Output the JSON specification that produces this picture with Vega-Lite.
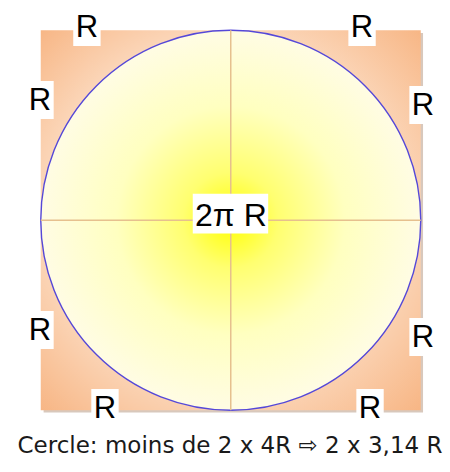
{
  "$schema": "https://vega.github.io/schema/vega-lite/v6.json",
  "width": 450,
  "height": 472,
  "autosize": {"type": "fit", "contains": "padding"},
  "padding": 0,
  "background": "white",
  "config": {"view": {"stroke": null}},
  "datasets": {
    "square": [{"x": -1, "x2": 1, "y": -1, "y2": 1}],
    "shadow": [{"x": -0.985, "x2": 1.012, "y": -1.012, "y2": 0.985}],
    "center": [{"x": 0, "y": 0}],
    "hline": [{"x": -1, "x2": 1, "y": 0}],
    "vline": [{"x": 0, "y": -1, "y2": 1}],
    "labels": [
      {"x": -0.757, "y": 1.017, "t": "R"},
      {"x": 0.691, "y": 1.017, "t": "R"},
      {"x": -1.004, "y": 0.633, "t": "R"},
      {"x": 1.012, "y": 0.607, "t": "R"},
      {"x": -1.004, "y": -0.578, "t": "R"},
      {"x": 1.012, "y": -0.614, "t": "R"},
      {"x": -0.662, "y": -0.988, "t": "R"},
      {"x": 0.733, "y": -0.988, "t": "R"}
    ],
    "mid": [{"x": 0.001, "y": 0.028, "t": "2π R", "bx": -0.2, "bx2": 0.197, "by": -0.07, "by2": 0.14}],
    "caption": [{"x": -0.004, "y": -1.19, "t": "Cercle: moins de 2 x 4R ⇨ 2 x 3,14 R"}]
  },
  "encoding": {
    "x": {"field": "x", "type": "quantitative", "scale": {"domain": [-1.2145, 1.1539], "nice": false, "zero": false}, "axis": null},
    "y": {"field": "y", "type": "quantitative", "scale": {"domain": [-1.325, 1.1592], "nice": false, "zero": false}, "axis": null}
  },
  "layer": [
    {
      "data": {"name": "shadow"},
      "mark": {"type": "rect", "fill": "#d8c8bc"},
      "encoding": {"x2": {"field": "x2"}, "y2": {"field": "y2"}}
    },
    {
      "data": {"name": "square"},
      "mark": {
        "type": "rect",
        "fill": {"gradient": "radial", "x1": 0.45, "y1": 0.45, "r1": 0, "x2": 0.5, "y2": 0.5, "r2": 0.72,
          "stops": [{"offset": 0, "color": "#fff6ec"}, {"offset": 0.6, "color": "#fcdcc2"}, {"offset": 1, "color": "#f7b482"}]}
      },
      "encoding": {"x2": {"field": "x2"}, "y2": {"field": "y2"}}
    },
    {
      "data": {"name": "center"},
      "mark": {
        "type": "point", "shape": "circle", "filled": true, "opacity": 1, "size": 144400,
        "fill": {"gradient": "radial", "x1": 0.5, "y1": 0.5, "r1": 0, "x2": 0.5, "y2": 0.5, "r2": 0.5,
          "stops": [{"offset": 0, "color": "#ffff00"}, {"offset": 0.25, "color": "#ffff70"}, {"offset": 0.6, "color": "#ffffc0"}, {"offset": 1, "color": "#fffce4"}]},
        "stroke": "#5548d8", "strokeWidth": 1.4, "strokeOpacity": 1
      }
    },
    {
      "data": {"name": "hline"},
      "mark": {"type": "rule", "color": "#e6c08e", "strokeWidth": 1.5},
      "encoding": {"x2": {"field": "x2"}}
    },
    {
      "data": {"name": "vline"},
      "mark": {"type": "rule", "color": "#e6c08e", "strokeWidth": 1.5},
      "encoding": {"y2": {"field": "y2"}}
    },
    {
      "data": {"name": "labels"},
      "mark": {"type": "point", "shape": "M-0.72,-1H0.72V1H-0.72Z", "filled": true, "fill": "white", "opacity": 1, "strokeWidth": 0, "size": 1444}
    },
    {
      "data": {"name": "mid"},
      "mark": {"type": "rect", "fill": "white"},
      "encoding": {"x": {"field": "bx", "type": "quantitative"}, "x2": {"field": "bx2"}, "y": {"field": "by", "type": "quantitative"}, "y2": {"field": "by2"}}
    },
    {
      "data": {"name": "labels"},
      "mark": {"type": "text", "font": "Liberation Sans", "fontSize": 31, "color": "#000000", "baseline": "middle", "align": "center", "dy": 1},
      "encoding": {"text": {"field": "t"}}
    },
    {
      "data": {"name": "mid"},
      "mark": {"type": "text", "font": "Liberation Sans", "fontSize": 32, "color": "#000000", "baseline": "middle", "align": "center", "dy": 1},
      "encoding": {"text": {"field": "t"}}
    },
    {
      "data": {"name": "caption"},
      "mark": {"type": "text", "font": "DejaVu Sans", "fontSize": 23, "color": "#1a1a1a", "baseline": "middle", "align": "center"},
      "encoding": {"text": {"field": "t"}}
    }
  ]
}
